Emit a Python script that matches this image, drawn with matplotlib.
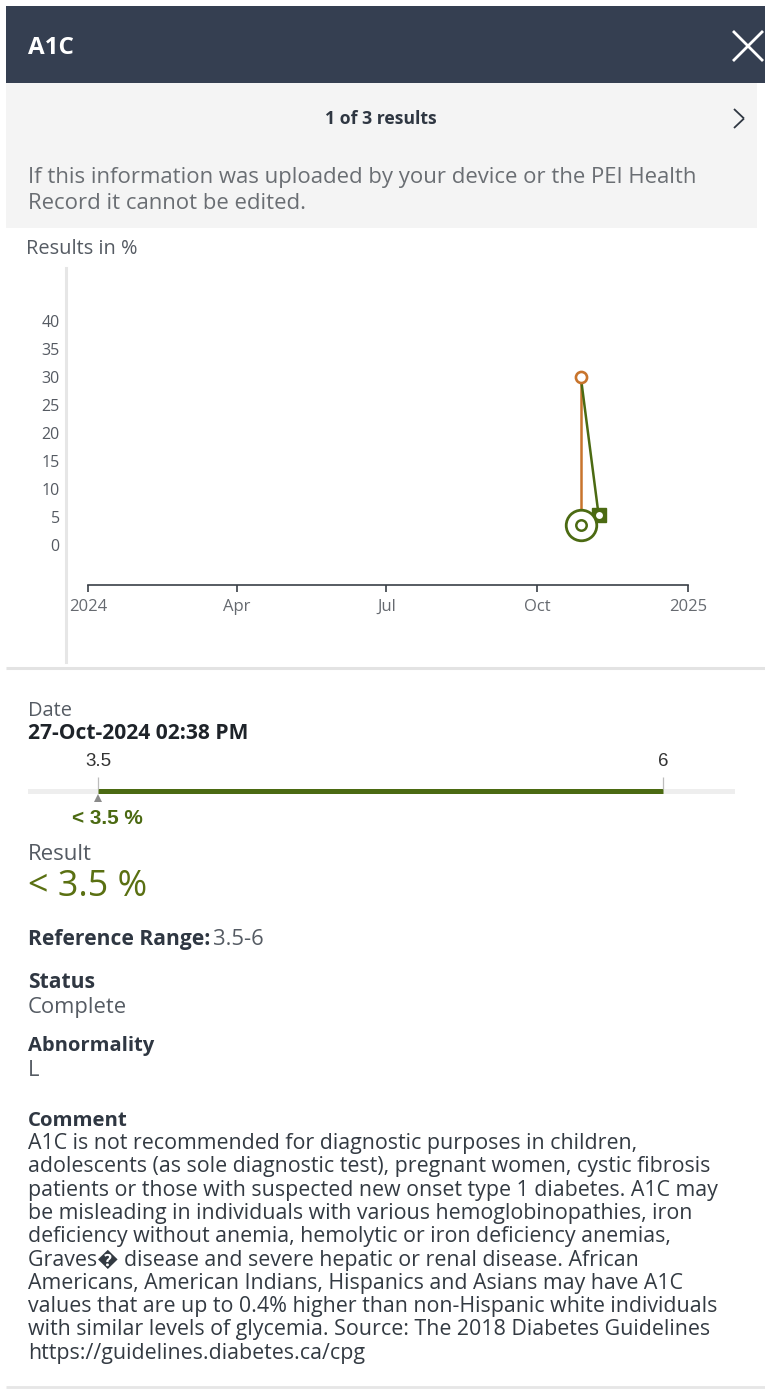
import datetime as dt

import matplotlib
matplotlib.use('Agg')
import matplotlib.pyplot as plt
import matplotlib.dates as mdates
from matplotlib.patches import Rectangle
from matplotlib.lines import Line2D

# data
title = 'A1C'
result_counter = '1 of 3 results'
y_ticks = [0, 5, 10, 15, 20, 25, 30, 35, 40]
x_tick_dates = [dt.datetime(2024, 1, 1), dt.datetime(2024, 4, 1), dt.datetime(2024, 7, 1),
                dt.datetime(2024, 10, 1), dt.datetime(2025, 1, 1)]
x_tick_labels = ['2024', 'Apr', 'Jul', 'Oct', '2025']
orange_dates = [dt.datetime(2024, 10, 27, 14, 38), dt.datetime(2024, 10, 27, 14, 38)]
orange_values = [30, 3.5]
green_dates = [dt.datetime(2024, 10, 27, 14, 38), dt.datetime(2024, 11, 7, 12, 0)]
green_values = [30, 5.3]
selected_date = dt.datetime(2024, 10, 27, 14, 38)
selected_value = 3.5
ref_low, ref_high = 3.5, 6
result_value = 3.5

comment_lines = [
    'A1C is not recommended for diagnostic purposes in children,',
    'adolescents (as sole diagnostic test), pregnant women, cystic fibrosis',
    'patients or those with suspected new onset type 1 diabetes. A1C may',
    'be misleading in individuals with various hemoglobinopathies, iron',
    'deficiency without anemia, hemolytic or iron deficiency anemias,',
    'Graves\ufffd disease and severe hepatic or renal disease. African',
    'Americans, American Indians, Hispanics and Asians may have A1C',
    'values that are up to 0.4% higher than non-Hispanic white individuals',
    'with similar levels of glycemia. Source: The 2018 Diabetes Guidelines',
    'https://guidelines.diabetes.ca/cpg',
]

HEADER = '#353f51'
PANEL = '#f4f4f4'
DARK = '#2f3742'
GREY_TXT = '#555b63'
ORANGE = '#c8742c'
GREEN = '#4b6a12'
FONT = ['Open Sans', 'DejaVu Sans']

W, H = 765, 1389
fig = plt.figure(figsize=(W / 100, H / 100), dpi=100)
fig.patch.set_facecolor('white')


def fx(x):
    return x / W


def fy(y):
    return 1 - y / H


def box(x0, y0, x1, y1):
    return [fx(x0), fy(y1), (x1 - x0) / W, (y1 - y0) / H]


def fit(t, width_px):
    r = fig.canvas.get_renderer()
    w = t.get_window_extent(r).width
    t.set_fontsize(t.get_fontsize() * width_px / w)
    return t.get_fontsize()


def T(x, y, s, size=11, color=DARK, weight='normal', ha='left', width=None, family=FONT):
    t = fig.text(fx(x), fy(y), s, fontsize=size, color=color, weight=weight,
                 ha=ha, va='center_baseline', family=family)
    if width:
        fit(t, width)
    return t


def rect(x0, y0, x1, y1, color):
    fig.add_artist(Rectangle((fx(x0), fy(y1)), (x1 - x0) / W, (y1 - y0) / H,
                             transform=fig.transFigure, color=color, lw=0))


def line(x0, y0, x1, y1, color, lw):
    fig.add_artist(Line2D([fx(x0), fx(x1)], [fy(y0), fy(y1)], transform=fig.transFigure,
                          color=color, lw=lw, solid_capstyle='butt'))


# header and info panel
rect(6, 6, 765, 83, HEADER)
rect(6, 83, 757, 228, PANEL)
T(28, 45, title, 16, 'white', 'bold', width=46)
line(733, 31, 763, 61, 'white', 2)
line(733, 61, 763, 31, 'white', 2)
T(381, 117, result_counter, 10, DARK, 'bold', ha='center', width=112)
line(734, 109, 744, 118.5, DARK, 1.3)
line(744, 118.5, 734, 128, DARK, 1.3)
info = T(28, 175, 'If this information was uploaded by your device or the PEI Health', 12.5,
         '#6a6e73', width=669)
T(28, 201, 'Record it cannot be edited.', info.get_fontsize(), '#6a6e73')

# chart
T(26, 247, 'Results in %', 10, GREY_TXT, width=112)
ax = fig.add_axes(box(66, 268, 700, 662))
ax.patch.set_alpha(0)
d0 = mdates.date2num(x_tick_dates[0])
d1 = mdates.date2num(x_tick_dates[-1])
ppd = (688 - 88) / (d1 - d0)
ax.set_xlim(d0 - (88 - 66) / ppd, d0 + (700 - 88) / ppd)
ppv = (545 - 321) / 40
ax.set_ylim((545 - 662) / ppv, (545 - 268) / ppv)

ax.plot(orange_dates, orange_values, color=ORANGE, lw=1.8, zorder=3)
ax.plot(green_dates, green_values, color=GREEN, lw=1.8, zorder=3)
ax.plot(orange_dates[0], orange_values[0], 'o', ms=8, mfc='white', mec=ORANGE, mew=1.9, zorder=5)
ax.plot(green_dates[-1], green_values[-1], 's', ms=10, mfc=GREEN, mec=GREEN, zorder=4)
ax.plot(green_dates[-1], green_values[-1], 'o', ms=6.5, mfc='white', mec=GREEN, mew=1.5, zorder=4)
ax.plot(selected_date, selected_value, 'o', ms=22, mfc='white', mec=GREEN, mew=2, zorder=6)
ax.plot(selected_date, selected_value, 'o', ms=7.5, mfc='white', mec=GREEN, mew=1.8, zorder=7)

for s in ['top', 'right']:
    ax.spines[s].set_visible(False)
ax.spines['left'].set_color('#e6e6e6')
ax.spines['left'].set_linewidth(2.2)
ax.spines['bottom'].set_position(('data', (545 - 585) / ppv))
ax.spines['bottom'].set_bounds(d0, d1)
ax.spines['bottom'].set_color('#3a3f47')
ax.spines['bottom'].set_linewidth(1.2)
ax.set_xticks(mdates.date2num(x_tick_dates), x_tick_labels)
ax.set_yticks(y_ticks)
ax.tick_params(axis='x', direction='out', length=5, width=1.2, color='#3a3f47',
               labelsize=12, labelcolor='#666a70', pad=5)
ax.tick_params(axis='y', length=0, pad=4.5, labelsize=11.5, labelcolor='#555a62')
for lab in ax.get_xticklabels() + ax.get_yticklabels():
    lab.set_family(FONT)

line(6, 668, 765, 668, '#e3e3e3', 2.2)

# details
T(28, 709, 'Date', 11, GREY_TXT, width=44)
T(28, 731, '27-Oct-2024 02:38 PM', 11, '#1e2329', 'bold', width=219)

rax = fig.add_axes(box(28, 770, 735, 812))
rax.patch.set_alpha(0)
ppu = (663 - 98) / (ref_high - ref_low)
rax.set_xlim(ref_low - (98 - 28) / ppu, ref_high + (735 - 663) / ppu)
rax.set_ylim(42, 0)
rax.axis('off')
rax.axhspan(18.5, 23.5, color='#eeeeee', lw=0)
rax.hlines(21, ref_low, ref_high, color=GREEN, lw=3.6)
rax.vlines([ref_low, ref_high], 7, 19, color='#bdbdbd', lw=0.9)
for v in [ref_low, ref_high]:
    rax.text(v, -8, f'{v:g}', ha='center', va='center', fontsize=13.5, color='#333',
             family=['Liberation Sans'], clip_on=False)
rax.plot(result_value, 28, marker='^', ms=6, color='#8a8a8a', mew=0, clip_on=False)
T(72, 816, f'< {result_value:g} %', 11, GREEN, 'bold', width=71, family=['Liberation Sans'])

T(28, 852, 'Result', 11, GREY_TXT, width=64)
T(28, 882, f'< {result_value:g} %', 20, '#5a7012', width=119)

T(28, 937, 'Reference Range:', 11, DARK, 'bold', width=180)
body = T(28, 1005, 'Complete', 11, GREY_TXT, width=99).get_fontsize()
T(213, 937, f'{ref_low:g}-{ref_high:g}', body, GREY_TXT)
T(28, 980, 'Status', 11, DARK, 'bold', width=67)
T(28, 1043, 'Abnormality', 11, DARK, 'bold', width=126)
T(28, 1068, 'L', body, GREY_TXT)
T(28, 1118, 'Comment', 11, DARK, 'bold', width=100)

probe = T(28, 1141, comment_lines[7], 12, DARK, width=688)
size = probe.get_fontsize()
probe.remove()
for i, s in enumerate(comment_lines):
    T(28, 1141 + i * 23.3, s, size, '#333a42')

line(6, 1387, 765, 1387, '#e6e6e6', 2)

fig.savefig('out.png', dpi=100)
